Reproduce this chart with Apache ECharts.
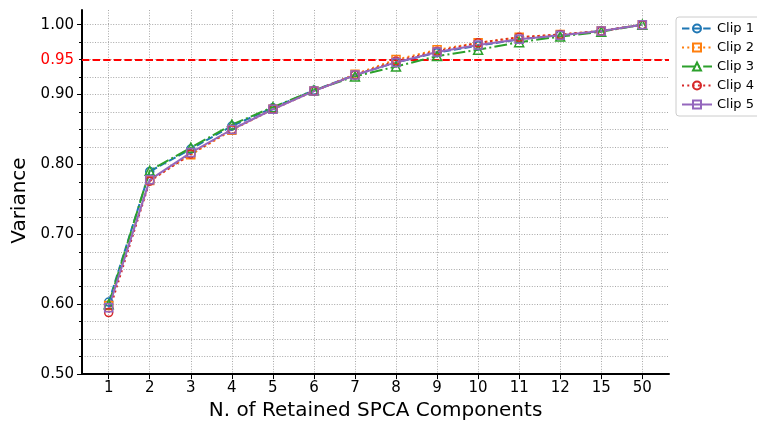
<!DOCTYPE html>
<html>
<head>
<meta charset="utf-8">
<script src="https://cdn.jsdelivr.net/npm/echarts@6/dist/echarts.min.js"></script>
<style>
  html, body { margin: 0; padding: 0; background: #fff; }
  #container { width: 757px; height: 426px; }
</style>
</head>
<body>
<div id="container"></div>
<script>
const components = ["1", "2", "3", "4", "5", "6", "7", "8", "9", "10", "11", "12", "15", "50"];
const clip1 = [0.603, 0.790, 0.822, 0.855, 0.881, 0.906, 0.928, 0.946, 0.960, 0.970, 0.979, 0.985, 0.991, 1.0];
const clip2 = [0.598, 0.777, 0.814, 0.849, 0.879, 0.905, 0.929, 0.950, 0.964, 0.974, 0.982, 0.986, 0.991, 1.0];
const clip3 = [0.600, 0.791, 0.824, 0.857, 0.882, 0.906, 0.926, 0.940, 0.955, 0.964, 0.975, 0.983, 0.990, 1.0];
const clip4 = [0.588, 0.776, 0.815, 0.850, 0.879, 0.905, 0.928, 0.948, 0.962, 0.974, 0.982, 0.986, 0.991, 1.0];
const clip5 = [0.595, 0.778, 0.817, 0.850, 0.879, 0.905, 0.928, 0.946, 0.961, 0.971, 0.979, 0.985, 0.991, 1.0];
const yLabels = [0.5, 0.6, 0.7, 0.8, 0.9, 0.95, 1.0];
const yMajor = [0.5, 0.6, 0.7, 0.8, 0.9, 1.0];
const yMinor = [0.5, 0.525, 0.55, 0.575, 0.6, 0.625, 0.65, 0.675, 0.7, 0.725, 0.75, 0.775,
  0.8, 0.825, 0.85, 0.875, 0.9, 0.925, 0.95, 0.975, 1.0];
const threshold = 0.95;

const font = "DejaVu Sans";
const idx = components.map((c, i) => i);
const gridLine = { show: true, lineStyle: { color: "#a8a8a8", type: [1, 1.6], width: 1 } };

function mkSeries(name, values, color, dash, symbol) {
  return {
    name: name,
    type: "line",
    data: values.map((v, i) => [i, v]),
    symbol: symbol,
    symbolSize: symbol === "triangle" ? 9 : 8,
    showSymbol: true,
    lineStyle: { color: color, width: 2, type: dash },
    itemStyle: { color: "rgba(255,255,255,0)", borderColor: color, borderWidth: 1.5 },
    emphasis: { disabled: true },
    z: 3,
  };
}

const myChart = echarts.init(document.getElementById("container"), null, { renderer: "canvas" });

const series = [
  mkSeries("Clip 1", clip1, "#1f77b4", [7.4, 3.2], "circle"),
  mkSeries("Clip 2", clip2, "#ff7f0e", [2, 3.3], "rect"),
  mkSeries("Clip 3", clip3, "#2ca02c", [12.8, 3.2, 2, 3.2], "triangle"),
  mkSeries("Clip 4", clip4, "#d62728", [2, 3.3], "circle"),
  mkSeries("Clip 5", clip5, "#9467bd", "solid", "rect"),
];
series[0].markLine = {
  silent: true,
  symbol: "none",
  label: { show: false },
  lineStyle: { color: "#ff0000", width: 2, type: [7.4, 3.2] },
  data: [{ yAxis: threshold }],
  z: 2,
};

const option = {
  animation: false,
  textStyle: { fontFamily: font },
  grid: { left: 82, right: 88, top: 10, bottom: 50 },
  legend: {
    orient: "vertical",
    left: 676,
    top: 17,
    itemWidth: 30,
    itemHeight: 10,
    itemGap: 6,
    padding: [5, 8, 5, 5],
    borderColor: "#cccccc",
    borderWidth: 1,
    borderRadius: 3,
    textStyle: { fontFamily: font, fontSize: 13, color: "#000" },
    data: ["Clip 1", "Clip 2", "Clip 3", "Clip 4", "Clip 5"],
  },
  xAxis: {
    type: "value",
    min: -0.65,
    max: 13.65,
    name: "N. of Retained SPCA Components",
    nameLocation: "middle",
    nameGap: 26,
    nameTextStyle: { fontFamily: font, fontSize: 20, color: "#000" },
    axisLine: { show: true, onZero: false, lineStyle: { color: "#000", width: 2 } },
    axisTick: { show: true, customValues: idx, length: 5, lineStyle: { color: "#000", width: 1 } },
    axisLabel: {
      customValues: idx,
      fontFamily: font,
      fontSize: 15,
      color: "#000",
      margin: 7,
      formatter: (v) => components[Math.round(v)],
    },
    splitLine: gridLine,
  },
  yAxis: [
    {
      type: "value",
      min: 0.5,
      max: 1.021,
      name: "Variance",
      nameLocation: "middle",
      nameGap: 50,
      nameRotate: 90,
      nameTextStyle: { fontFamily: font, fontSize: 20, color: "#000", padding: [0, 17, 0, 0] },
      axisLine: { show: true, onZero: false, lineStyle: { color: "#000", width: 2 } },
      axisTick: { show: true, customValues: yMinor, length: 3, lineStyle: { color: "#000", width: 1 } },
      axisLabel: {
        customValues: yLabels,
        fontFamily: font,
        fontSize: 15,
        color: "#000",
        margin: 8,
        formatter: (v) => (Math.abs(v - threshold) < 1e-6 ? "{r|" + v.toFixed(2) + "}" : v.toFixed(2)),
        rich: { r: { color: "#ff0000", fontFamily: font, fontSize: 15 } },
      },
      splitLine: gridLine,
    },
    {
      type: "value",
      min: 0.5,
      max: 1.021,
      position: "left",
      axisLine: { show: false, onZero: false },
      axisTick: { show: true, customValues: yMajor, length: 5, lineStyle: { color: "#000", width: 1 } },
      axisLabel: { show: false },
      splitLine: { show: false },
    },
  ],
  series: series,
};

myChart.setOption(option);
</script>
</body>
</html>
